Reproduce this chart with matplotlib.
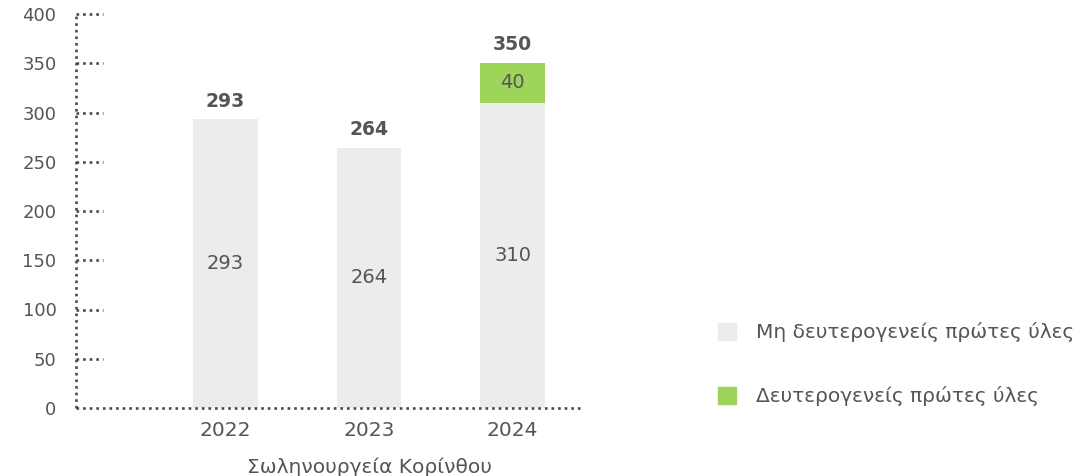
import matplotlib.pyplot as plt
from matplotlib.patches import Patch

years = ['2022', '2023', '2024']
non_secondary = [293, 264, 310]
secondary = [0, 0, 40]
totals = [293, 264, 350]
yticks = [0, 50, 100, 150, 200, 250, 300, 350, 400]

GRAY = '#ECECEA'
GREEN = '#9FD45B'
TXT = '#555555'
DOT = '#4a4a4a'
DOTS = (0, (1, 1.5))

plt.rcParams['font.family'] = ['DejaVu Sans']

fig = plt.figure(figsize=(10.86, 4.76), dpi=100)
ax = fig.add_axes([76 / 1086, 68 / 476, 507 / 1086, 394 / 476])

x = list(range(len(years)))
ax.bar(x, non_secondary, width=0.45, color=GRAY, zorder=2)
ax.bar(x, secondary, width=0.45, bottom=non_secondary, color=GREEN, zorder=2)

for i in x:
    ax.text(i, non_secondary[i] / 2, str(non_secondary[i]), ha='center', va='center',
            fontsize=14, color=TXT)
    if secondary[i]:
        ax.text(i, non_secondary[i] + secondary[i] / 2, str(secondary[i]), ha='center',
                va='center', fontsize=14, color=TXT)
    ax.text(i, totals[i] + 9, str(totals[i]), ha='center', va='bottom', fontsize=13.5,
            color=TXT, fontweight='bold')

ax.set_xlim(-1.04, 2.49)
ax.set_ylim(0, 400)
ax.set_yticks(yticks)
ax.set_xticks(x)
ax.set_xticklabels(years)
ax.tick_params(length=0, colors=TXT)
ax.tick_params(axis='y', pad=14, labelsize=13)
ax.tick_params(axis='x', pad=9, labelsize=14.5)

# dotted axis lines drawn as lines so the dot spacing matches the gridline stubs
for s in ax.spines.values():
    s.set_visible(False)
ax.plot([0, 0], [0, 1], transform=ax.transAxes, color=DOT, lw=1.9,
        linestyle=DOTS, clip_on=False, zorder=3)
ax.plot([0, 1], [0, 0], transform=ax.transAxes, color=DOT, lw=1.9,
        linestyle=DOTS, clip_on=False, zorder=3)

tr = ax.get_yaxis_transform()
for t in yticks[1:]:
    ax.plot([0, 27 / 507], [t, t], transform=tr, color=DOT, lw=1.9,
            linestyle=DOTS, clip_on=False, zorder=3)

ax.text(1, -0.125, 'Σωληνουργεία Κορίνθου', transform=ax.get_xaxis_transform(),
        ha='center', va='top', fontsize=14.5, color=TXT)

handles = [Patch(color=GRAY), Patch(color=GREEN)]
fig.legend(handles, ['Μη δευτερογενείς πρώτες ύλες', 'Δευτερογενείς πρώτες ύλες'],
           loc='upper left', bbox_to_anchor=(700 / 1086, 1 - 304 / 476), frameon=False,
           fontsize=14.5, labelcolor=TXT, handlelength=0.9, handleheight=0.9,
           labelspacing=2.2, handletextpad=1.0)

fig.savefig('out.png', dpi=100)
